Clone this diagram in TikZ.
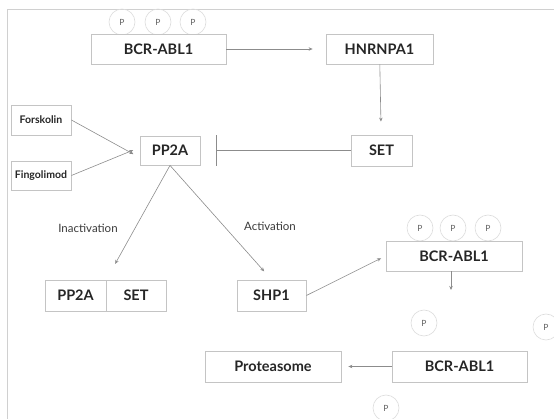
\documentclass[tikz,border=0pt]{standalone}
\usepackage{fontspec}
\setmainfont{Lato}
\usetikzlibrary{arrows.meta}
\definecolor{boxgray}{HTML}{C4C4C4}
\definecolor{linegray}{HTML}{8C8C8C}
\definecolor{txtgray}{HTML}{3A3A3A}
\tikzset{
	box/.style={draw=boxgray, line width=0.8pt, fill=white, inner sep=0pt, text=black!85,
		font=\bfseries\fontsize{14.5}{16}\selectfont},
	smallbox/.style={box, font=\bfseries\fontsize{10.5}{12}\selectfont},
	phos/.style={circle, draw=boxgray!60, line width=0.6pt, minimum size=26pt, inner sep=0pt,
		text=txtgray!80, font=\fontsize{8.5}{9}\selectfont},
	lab/.style={text=txtgray, font=\fontsize{11.5}{13}\selectfont},
	link/.style={draw=linegray, line width=0.6pt, -{Stealth[length=4pt,width=3.5pt]}}
}
\begin{document}
\begin{tikzpicture}[x=1pt, y=-1pt]
	\useasboundingbox (0,0) rectangle (554,419);
	\draw[boxgray!80, line width=0.8pt] (554,9) -- (7,9) -- (7,419);

	\node (P1) at (122,22)  [phos] {P};
	\node (P2) at (158,22)  [phos] {P};
	\node (P3) at (193,22)  [phos] {P};
	\node (Bc) at (158.5,49) [box, minimum width=135pt, minimum height=30pt] {BCR-ABL1};
	\node (Hn) at (379.5,49) [box, minimum width=107pt, minimum height=30pt] {HNRNPA1};
	\node (Se) at (381.5,150.5) [box, minimum width=61pt, minimum height=31pt] {SET};
	\node (Pp) at (170,150.5) [box, minimum width=60pt, minimum height=29pt] {PP2A};
	\node (Fo) at (41,120)  [smallbox, minimum width=60pt, minimum height=30pt] {Forskolin};
	\node (Fi) at (41,175.5) [smallbox, minimum width=60pt, minimum height=29pt] {Fingolimod};

	\node (Pc) at (75.5,295.5) [box, minimum width=61pt, minimum height=31pt] {PP2A};
	\node (Sc) at (136,295.5)  [box, minimum width=60pt, minimum height=31pt] {SET};
	\node (Sh) at (271.5,295.5) [box, minimum width=69pt, minimum height=31pt] {SHP1};
	\node (In) at (88,228)  [lab] {Inactivation};
	\node (Ac) at (270,226) [lab] {Activation};

	\node (P4) at (420,228) [phos] {P};
	\node (P5) at (453,228) [phos] {P};
	\node (P6) at (488,228) [phos] {P};
	\node (Bd) at (454,256) [box, minimum width=136pt, minimum height=30pt] {BCR-ABL1};
	\coordinate (Dn) at (451,290);
	\node (P7) at (424,323) [phos] {P};
	\node (P8) at (546,327) [phos] {P};
	\node (P9) at (386,408) [phos] {P};
	\node (Pr) at (273,366.5) [box, minimum width=136pt, minimum height=31pt] {Proteasome};
	\node (Be) at (459.5,366.5) [box, minimum width=135pt, minimum height=31pt] {BCR-ABL1};

	\draw[link, shorten >=13pt] (Bc) -- (Hn);
	\draw[link, shorten >=13pt] (Hn) -- (Se);
	\draw[draw=linegray, line width=0.6pt, -{Bar[width=31pt]}, shorten >=16pt] (Se) -- (Pp);
	\draw[link, shorten >=7pt] (Fo.east) -- ([yshift=-7pt]Pp.west);
	\draw[link, shorten >=7pt] (Fi.east) -- ([yshift=3pt]Pp.west);
	\draw[link, shorten >=18pt] (Pp.south) -- (Pc.north east);
	\draw[link, shorten >=11pt] (Pp.south) -- (Sh.north);
	\draw[link, shorten >=5pt] (Sh.east) -- (Bd.west);
	\draw[link] (Bd.south -| Dn) -- (Dn);
	\draw[link, shorten >=7pt] (Be) -- (Pr);
\end{tikzpicture}
\end{document}
